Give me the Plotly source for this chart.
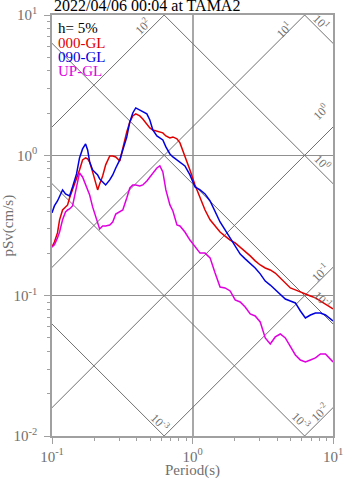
import numpy as np
import plotly.graph_objects as go

# periods (s) at which the spectra were read
period = [0.100, 0.104, 0.1094, 0.1132, 0.1189, 0.1248, 0.1291, 0.1333, 0.140, 0.1495,
          0.157, 0.165, 0.1734, 0.1793, 0.1854, 0.1946, 0.2113, 0.2183, 0.2294, 0.241,
          0.2576, 0.2705, 0.2843, 0.3036, 0.319, 0.3405, 0.358, 0.3758, 0.3946, 0.4217,
          0.4429, 0.4732, 0.4969, 0.5221, 0.5578, 0.5857, 0.615, 0.6465, 0.6906, 0.7253,
          0.775, 0.8143, 0.883, 0.959, 1.042, 1.132, 1.228, 1.334, 1.448, 1.571,
          1.706, 1.853, 2.012, 2.185, 2.371, 2.575, 2.794, 3.034, 3.294, 3.577,
          3.882, 4.217, 4.578, 4.97, 5.397, 5.861, 6.363, 6.908, 7.499, 8.143,
          8.84, 10.0]

# pSv (cm/s), h = 5%
psv_000 = [0.222, 0.241, 0.280, 0.347, 0.408, 0.429, 0.443, 0.497, 0.567, 0.668,
           0.787, 0.927, 0.958, 0.943, 0.897, 0.762, 0.567, 0.625, 0.713, 0.855,
           0.99, 0.99, 0.974, 0.912, 1.129, 1.468, 1.73, 1.909, 1.973, 1.909,
           1.817, 1.674, 1.567, 1.517, 1.493, 1.468, 1.445, 1.375, 1.33, 1.352,
           1.309, 1.226, 0.99, 0.787, 0.615, 0.497, 0.408, 0.347, 0.314, 0.284,
           0.266, 0.249, 0.2375, 0.222, 0.208, 0.192, 0.177, 0.1655, 0.1575, 0.1525,
           0.145, 0.1337, 0.123, 0.1135, 0.11, 0.106, 0.1028, 0.0995, 0.0964, 0.0917,
           0.0873, 0.0804]

psv_090 = [0.389, 0.436, 0.473, 0.505, 0.567, 0.531, 0.522, 0.514, 0.595, 0.737,
           0.958, 1.111, 1.206, 1.093, 0.897, 0.787, 0.725, 0.679, 0.646, 0.615,
           0.668, 0.725, 0.813, 0.927, 1.093, 1.352, 1.73, 2.005, 2.177, 2.106,
           2.04, 1.973, 1.788, 1.517, 1.375, 1.33, 1.288, 1.148, 1.023, 0.974,
           0.927, 0.897, 0.84, 0.725, 0.595, 0.567, 0.531, 0.473, 0.395, 0.335,
           0.294, 0.258, 0.222, 0.198, 0.183, 0.171, 0.1575, 0.143, 0.127, 0.119,
           0.11, 0.101, 0.0947, 0.0917, 0.0887, 0.0778, 0.0694, 0.0728, 0.0753, 0.0753,
           0.0728, 0.066]

psv_up = [0.222, 0.23, 0.258, 0.284, 0.347, 0.395, 0.408, 0.415, 0.436, 0.595,
          0.749, 0.701, 0.625, 0.567, 0.522, 0.429, 0.335, 0.299, 0.314, 0.314,
          0.319, 0.335, 0.382, 0.395, 0.408, 0.497, 0.586, 0.615, 0.615, 0.605,
          0.615, 0.657, 0.701, 0.749, 0.813, 0.84, 0.762, 0.567, 0.443, 0.401,
          0.319, 0.314, 0.284, 0.249, 0.222, 0.201, 0.201, 0.186, 0.145, 0.1153,
          0.1135, 0.108, 0.0932, 0.0902, 0.083, 0.0741, 0.0717, 0.065, 0.05, 0.0453,
          0.0508, 0.0533, 0.05, 0.0431, 0.0378, 0.0348, 0.0337, 0.0348, 0.036, 0.0384,
          0.0384, 0.0337]

# tripartite guide lines: displacement (cm) and acceleration (cm/s2)
disp_levels = [1e-3, 1e-2, 1e-1, 1e0, 1e1]
acc_levels = [1e-2, 1e-1, 1e0, 1e1, 1e2]

# guide labels: (text, log10 T, log10 pSv, angle)
guide_labels = [
    ("10<sup>2</sup>", -0.354, 0.915, -45),
    ("10<sup>1</sup>", 0.654, 0.894, -45),
    ("10<sup>1</sup>", 0.911, 0.951, 45),
    ("10<sup>0</sup>", 0.918, 0.309, -45),
    ("10<sup>0</sup>", 0.925, -0.054, 45),
    ("10<sup>-1</sup>", 0.911, -0.838, -45),
    ("10<sup>-1</sup>", 0.925, -1.03, 45),
    ("10<sup>-3</sup>", -0.232, -1.907, 45),
    ("10<sup>-3</sup>", 0.768, -1.893, 45),
    ("10<sup>-2</sup>", 0.904, -1.829, -45),
]

x_ticks = [0.1, 1, 10]
x_ticktext = ["10<sup>-1</sup>", "10<sup>0</sup>", "10<sup>1</sup>"]
y_ticks = [0.01, 0.1, 1, 10]
y_ticktext = ["10<sup>-2</sup>", "10<sup>-1</sup>", "10<sup>0</sup>", "10<sup>1</sup>"]

SERIF = "Liberation Serif, Times New Roman, serif"
GUIDE = "#707070"
FRAME = "#a0a0a0"

fig = go.Figure()

t_end = np.array([0.01, 100.0])
for d in disp_levels:
    fig.add_trace(go.Scatter(x=t_end, y=2 * np.pi * d / t_end, mode="lines",
                             line=dict(color=GUIDE, width=1), hoverinfo="skip", showlegend=False))
for a in acc_levels:
    fig.add_trace(go.Scatter(x=t_end, y=a * t_end / (2 * np.pi), mode="lines",
                             line=dict(color=GUIDE, width=1), hoverinfo="skip", showlegend=False))

for name, vals, col in [("000-GL", psv_000, "#e00000"),
                        ("090-GL", psv_090, "#0000e0"),
                        ("UP-GL", psv_up, "#e000e0")]:
    fig.add_trace(go.Scatter(x=period, y=vals, mode="lines", name=name,
                             line=dict(color=col, width=1.5), showlegend=False))

minor_vals = [m * 10.0 ** k for k in range(-3, 2) for m in range(2, 10)]

fig.update_xaxes(type="log", range=[-1, 1], tickvals=x_ticks, ticktext=x_ticktext,
                 showline=True, mirror=True, linecolor=FRAME, linewidth=1.5,
                 showgrid=True, gridcolor="#a8a8a8", gridwidth=1.5,
                 ticks="outside", ticklen=6, tickcolor=FRAME,
                 minor=dict(tickvals=minor_vals, ticks="outside", ticklen=3,
                            tickcolor=FRAME, showgrid=False),
                 tickfont=dict(family=SERIF, size=15, color="#707070"),
                 automargin=False, zeroline=False)
fig.update_yaxes(type="log", range=[-2, 1], tickvals=y_ticks, ticktext=y_ticktext,
                 showline=True, mirror=True, linecolor=FRAME, linewidth=1.5,
                 showgrid=True, gridcolor="#909090", gridwidth=1,
                 ticks="outside", ticklen=6, tickcolor=FRAME,
                 minor=dict(tickvals=minor_vals, ticks="outside", ticklen=3,
                            tickcolor=FRAME, showgrid=False),
                 tickfont=dict(family=SERIF, size=15, color="#707070"),
                 ticklabelstandoff=4, automargin=False, zeroline=False)

annos = []
for txt, lx, ly, ang in guide_labels:
    annos.append(dict(text=txt, x=lx, y=ly, xref="x", yref="y", showarrow=False,
                      textangle=ang, font=dict(family=SERIF, size=12, color=GUIDE)))

# legend text in the upper-left corner
for i, (txt, col) in enumerate([("h= 5%", "black"), ("000-GL", "#e00000"),
                                ("090-GL", "#0000e0"), ("UP-GL", "#e000e0")]):
    annos.append(dict(text=txt, x=0.015, y=1 - 0.008 - i * 0.034, xref="paper", yref="paper",
                      xanchor="left", yanchor="top", showarrow=False,
                      font=dict(family=SERIF, size=15, color=col)))

annos.append(dict(text="2022/04/06 00:04 at TAMA2", x=0, y=1, xref="paper", yref="paper",
                  xanchor="left", yanchor="bottom", yshift=-1, showarrow=False,
                  font=dict(family=SERIF, size=16, color="black")))
annos.append(dict(text="pSv(cm/s)", x=0, y=0.5, xref="paper", yref="paper",
                  xanchor="center", yanchor="middle", xshift=-44, textangle=-90, showarrow=False,
                  font=dict(family=SERIF, size=15, color="#707070")))
annos.append(dict(text="Period(s)", x=0.5, y=0, xref="paper", yref="paper",
                  xanchor="center", yanchor="top", yshift=-24, showarrow=False,
                  font=dict(family=SERIF, size=15, color="#707070")))

fig.update_layout(width=347, height=478, margin=dict(l=52, r=14, t=15, b=42),
                  plot_bgcolor="white", paper_bgcolor="white", annotations=annos,
                  showlegend=False)

fig.write_html("out.html", config={"displayModeBar": False},
               post_script="document.body.style.margin='0';")
